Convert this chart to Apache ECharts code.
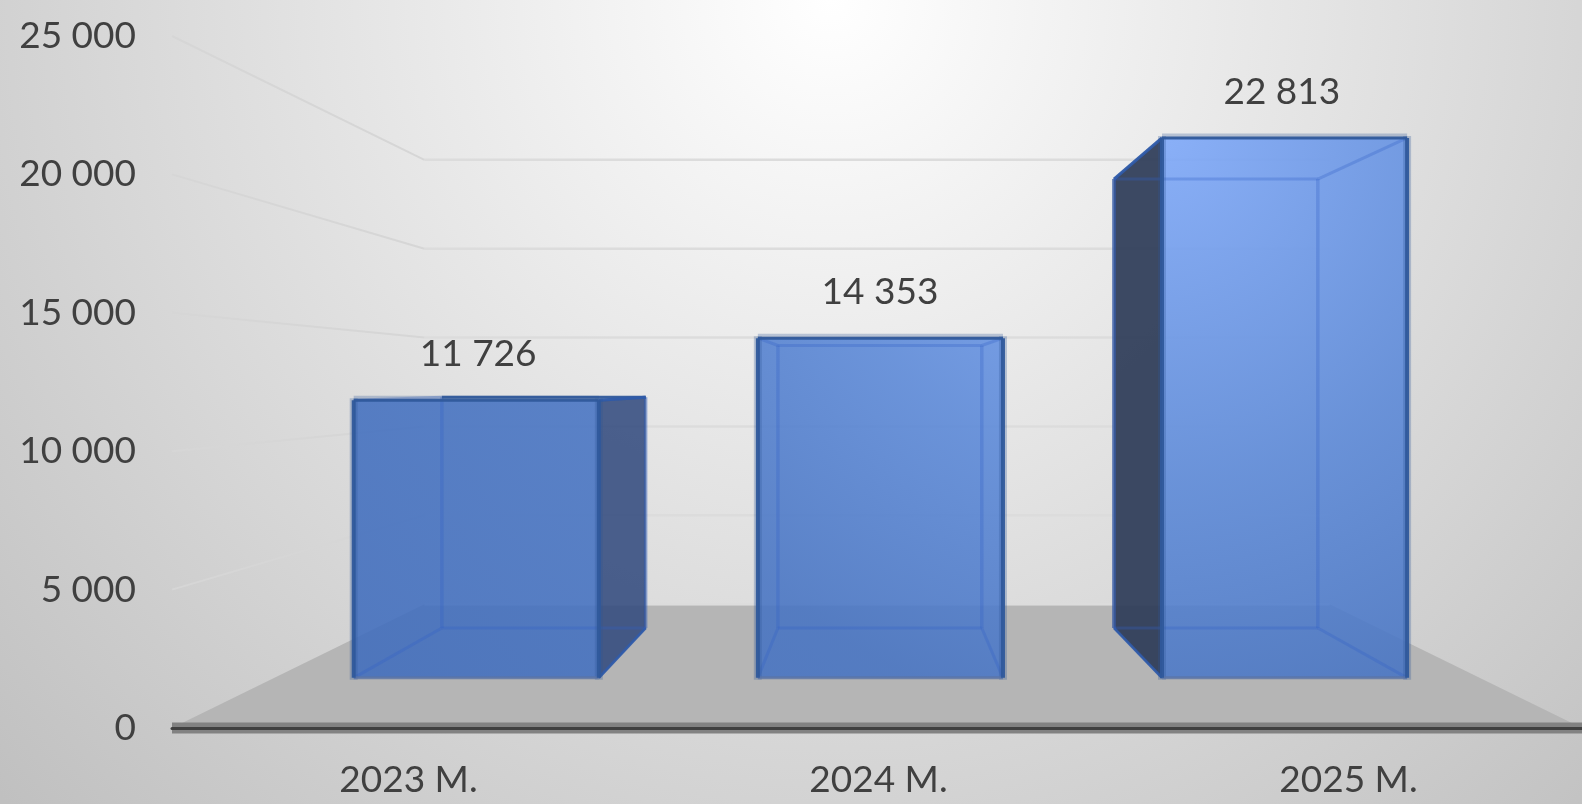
<!DOCTYPE html>
<html>
<head>
<meta charset="utf-8">
<title>3D bars</title>
<script src="https://cdn.jsdelivr.net/npm/echarts@6/dist/echarts.min.js"></script>
<style>
  html, body { margin: 0; padding: 0; background: #fff; }
  #main { width: 1582px; height: 804px; }
</style>
</head>
<body>
<div id="main"></div>
<script>
const years = ['2023 M.', '2024 M.', '2025 M.']
const amounts = [11726, 14353, 22813]
const valueTicks = [0, 5000, 10000, 15000, 20000, 25000]

// perspective of the excel style 3d chart: the grid is the front plane
const VP_X = 877
const VP_Y = 382
const S_WALL = 0.642
const S_BAR_FRONT = 0.855
const S_BAR_BACK = 0.711
const BAR_RATIO = 0.61
// bars sit a touch wider apart than the axis labels in the original
const BAR_STRETCH = 1.0057
const BAR_SHIFT = 4
const LABEL_FONT = '37px Lato'
const TEXT_COLOR = '#404040'

function project (x, y, s) {
  return [VP_X + (x - VP_X) * s, VP_Y + (y - VP_Y) * s]
}

function fmt (v) {
  return String(v).replace(/\B(?=(\d{3})+$)/g, ' ')
}

function line (a, b, stroke, width) {
  return {
    type: 'line',
    shape: { x1: a[0], y1: a[1], x2: b[0], y2: b[1] },
    style: { stroke: stroke, lineWidth: width, fill: null }
  }
}

function poly (points, fill) {
  return { type: 'polygon', shape: { points: points }, style: { fill: fill } }
}

function renderFloor (params, api) {
  let sys = params.coordSys
  let y = api.coord([0, 0])[1]
  let left = sys.x
  let right = sys.x + sys.width
  return {
    type: 'group',
    children: [
      poly([[left, y], [right, y], project(right, y, S_WALL), project(left, y, S_WALL)], '#b5b5b5'),
      line(project(left, y, S_WALL), project(right, y, S_WALL), 'rgba(222,222,222,0.6)', 2),
      line([left, y], [right, y], '#828282', 11)
    ]
  }
}

function renderGridLine (params, api) {
  let sys = params.coordSys
  let y = api.coord([0, api.value(1)])[1]
  let left = sys.x
  let right = sys.x + sys.width
  let children = [line(project(left, y, S_WALL), project(right, y, S_WALL), '#dcdcdc', 2.5)]
  if (api.value(1) > 0) {
    children.push(line([left, y], project(left, y, S_WALL), '#d6d6d6', 2))
  }
  return { type: 'group', children: children }
}

function renderBar (params, api) {
  let top = api.coord([api.value(0), api.value(1)])
  let base = api.coord([api.value(0), 0])
  let w = api.size([1, 0])[0] * BAR_RATIO
  let cx = VP_X + (top[0] - VP_X) * BAR_STRETCH + BAR_SHIFT
  let x0 = cx - w / 2
  let x1 = cx + w / 2

  let fTL = project(x0, top[1], S_BAR_FRONT)
  let fTR = project(x1, top[1], S_BAR_FRONT)
  let fBL = project(x0, base[1], S_BAR_FRONT)
  let fBR = project(x1, base[1], S_BAR_FRONT)
  let bTL = project(x0, top[1], S_BAR_BACK)
  let bTR = project(x1, top[1], S_BAR_BACK)
  let bBL = project(x0, base[1], S_BAR_BACK)
  let bBR = project(x1, base[1], S_BAR_BACK)

  // fill lights up from the top of the last bar, as in the original
  let faceFill = new echarts.graphic.RadialGradient(1160, 130, 950, [
    { offset: 0, color: 'rgba(125,168,250,0.88)' },
    { offset: 0.37, color: 'rgba(90,136,216,0.88)' },
    { offset: 0.63, color: 'rgba(71,116,195,0.88)' },
    { offset: 1, color: 'rgba(64,109,189,0.88)' }
  ], true)
  let edge = 'rgba(47,88,155,0.95)'
  let halo = 'rgba(47,85,151,0.28)'
  let inner = 'rgba(50,95,200,0.3)'

  let children = []

  // side wall seen through the gap, only when the bar sits off the centre
  if (x1 < VP_X) {
    children.push(poly([fTR, bTR, bBR, fBR], 'rgba(48,72,125,0.86)'))
    children.push(line(bTR, bBR, halo, 3))
    children.push(line(fBR, bBR, edge, 2.5))
    children.push(line(fTR, bTR, edge, 3))
  } else if (x0 > VP_X) {
    children.push(poly([fTL, bTL, bBL, fBL], 'rgba(46,60,88,0.93)'))
    children.push(line(bTL, bBL, 'rgba(60,90,145,0.75)', 3.5))
    children.push(line(fBL, bBL, edge, 2.5))
    children.push(line(fTL, bTL, edge, 3))
  }

  children.push(poly([fTL, fTR, fBR, fBL], faceFill))

  // back edges show through the glass
  children.push(line(bTL, bBL, inner, 3.5))
  children.push(line(bTR, bBR, inner, 3.5))
  children.push(line(bBL, bBR, inner, 3))
  children.push(line(bTL, bTR, x1 < VP_X ? edge : inner, 3))
  children.push(line(fBL, bBL, inner, 3))
  children.push(line(fBR, bBR, inner, 3))
  children.push(line(fTL, bTL, inner, 3))
  children.push(line(fTR, bTR, inner, 3))

  // front frame
  children.push(line([fTL[0], fTL[1] - 2], [fBL[0], fBL[1] + 2], halo, 8))
  children.push(line([fTR[0], fTR[1] - 2], [fBR[0], fBR[1] + 2], halo, 8))
  children.push(line([fTL[0], fTL[1] - 2], [fTR[0], fTR[1] - 2], halo, 5))
  children.push(line(fBL, fBR, 'rgba(90,115,165,0.8)', 3))
  children.push(line(fTL, fTR, edge, 3))
  children.push(line(fTL, fBL, edge, 4))
  children.push(line(fTR, fBR, edge, 4))

  let labelAt = project(top[0], top[1], S_BAR_FRONT)
  children.push({
    type: 'text',
    style: {
      text: fmt(api.value(1)),
      x: labelAt[0] + 3,
      y: labelAt[1] - 46,
      align: 'center',
      verticalAlign: 'middle',
      font: LABEL_FONT,
      fill: TEXT_COLOR
    }
  })
  return { type: 'group', children: children }
}

let chart = echarts.init(document.getElementById('main'))
chart.setOption({
  animation: false,
  backgroundColor: {
    type: 'radial',
    x: 830,
    y: 0,
    r: 1150,
    global: true,
    colorStops: [
      { offset: 0, color: '#ffffff' },
      { offset: 1, color: '#c0c0c0' }
    ]
  },
  grid: { left: 172, right: 0, top: 36, bottom: 76 },
  xAxis: {
    type: 'category',
    data: years,
    z: 3,
    axisTick: { show: false },
    axisLine: { show: true, lineStyle: { color: '#404040', width: 3 } },
    axisLabel: { margin: 34, padding: [0, 0, 0, 3], color: TEXT_COLOR, fontFamily: 'Lato', fontSize: 37 }
  },
  yAxis: {
    type: 'value',
    min: 0,
    max: 25000,
    interval: 5000,
    axisLine: { show: false },
    axisTick: { show: false },
    splitLine: { show: false },
    axisLabel: {
      margin: 36,
      color: TEXT_COLOR,
      fontFamily: 'Lato',
      fontSize: 37,
      formatter: fmt
    }
  },
  series: [
    { type: 'custom', z: 1, silent: true, data: [[0, 0]], renderItem: renderFloor },
    { type: 'custom', z: 2, silent: true, data: valueTicks.map(v => [0, v]), renderItem: renderGridLine },
    { type: 'custom', z: 4, silent: true, data: amounts.map((v, i) => [i, v]), renderItem: renderBar }
  ]
})
</script>
</body>
</html>
